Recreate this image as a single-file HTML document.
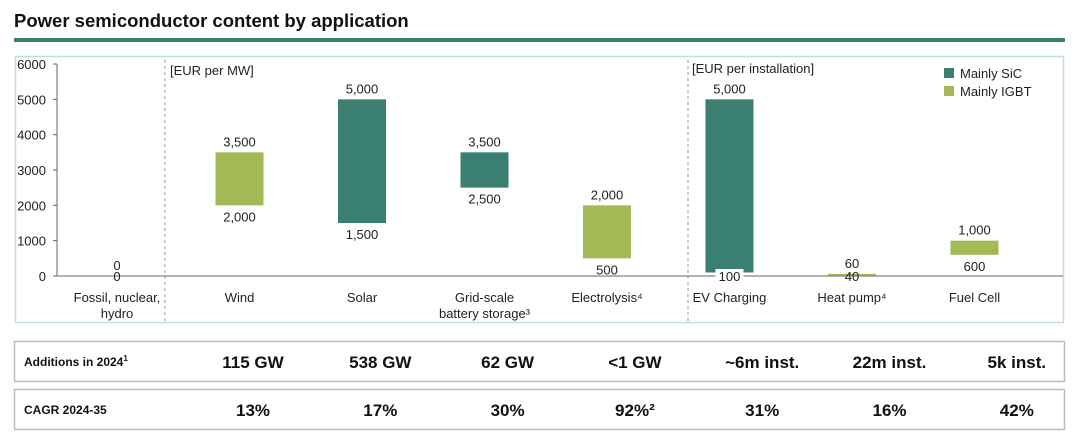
<!DOCTYPE html>
<html><head><meta charset="utf-8"><style>
body{margin:0;background:#fff;font-family:"Liberation Sans",Arial,sans-serif;}
svg text{font-family:"Liberation Sans",Arial,sans-serif;}
</style></head><body>
<svg id="c" width="1080" height="439" xmlns="http://www.w3.org/2000/svg">
<text x="14" y="27" font-size="18.5" font-weight="bold" fill="#111">Power semiconductor content by application</text>
<rect x="14" y="38" width="1051" height="4" fill="#3a7f72"/>
<rect x="15.5" y="56.5" width="1048" height="266" fill="none" stroke="#bfe0dc" stroke-width="1.5"/>
<line x1="165" y1="60" x2="165" y2="322" stroke="#999" stroke-dasharray="3,3"/>
<line x1="688" y1="60" x2="688" y2="322" stroke="#999" stroke-dasharray="3,3"/>
<text x="170" y="75" font-size="13" fill="#222">[EUR per MW]</text>
<text x="692" y="73" font-size="13" fill="#222">[EUR per installation]</text>
<g>
<rect x="944" y="68" width="10" height="10" fill="#3a7f72"/>
<text x="960" y="78" font-size="13" fill="#222">Mainly SiC</text>
<rect x="944" y="86" width="10" height="10" fill="#a2b955"/>
<text x="960" y="96" font-size="13" fill="#222">Mainly IGBT</text>
</g>
<g id="axis"></g><g id="bars"></g>
<g>
<rect x="14.5" y="341.5" width="1050" height="40" fill="none" stroke="#bbb" stroke-width="1.5"/>
<rect x="14.5" y="389.5" width="1050" height="40" fill="none" stroke="#bbb" stroke-width="1.5"/>
<text x="24" y="366" font-size="12" font-weight="bold" fill="#111">Additions in 2024<tspan font-size="8" dy="-5">1</tspan></text>
<text x="24" y="414" font-size="12" font-weight="bold" fill="#111">CAGR 2024-35</text>
<g id="tbl"></g>
</g>
</svg>
<script>
const categories=["Fossil, nuclear,|hydro","Wind","Solar","Grid-scale|battery storage³","Electrolysis⁴","EV Charging","Heat pump⁴","Fuel Cell"];
const lowValues=[0,2000,1500,2500,500,100,40,600];
const highValues=[0,3500,5000,3500,2000,5000,60,1000];
const seriesType=["igbt","igbt","sic","sic","igbt","sic","igbt","igbt"];
const yTicks=[0,1000,2000,3000,4000,5000,6000];
const additions=["115 GW","538 GW","62 GW","<1 GW","~6m inst.","22m inst.","5k inst."];
const cagr=["13%","17%","30%","92%","31%","16%","42%"];
const NS="http://www.w3.org/2000/svg";
const y=v=>276-v*(212/6000);
const x=i=>117+i*122.5;
const col={sic:"#3a7f72",igbt:"#a2b955"};
function mk(t,a,p){const e=document.createElementNS(NS,t);for(const k in a)e.setAttribute(k,a[k]);(p||document.getElementById('bars')).appendChild(e);return e;}
const ax=document.getElementById('axis');
mk('line',{x1:57,y1:y(6000),x2:57,y2:276,stroke:'#666'},ax);
const base=mk('line',{x1:57,y1:276,x2:1063,y2:276,stroke:'#666'},ax);


yTicks.forEach(t=>{mk('line',{x1:53,y1:y(t),x2:57,y2:y(t),stroke:'#666'},ax);
const tx=mk('text',{x:46,y:y(t)+5,'font-size':13,'text-anchor':'end',fill:'#222'},ax);tx.textContent=t;

});
const fmt=v=>v.toLocaleString('en-US');
categories.forEach((c,i)=>{const cx=x(i);
const bh=y(lowValues[i])-y(highValues[i]);
if(highValues[i]>lowValues[i]){const r=mk('rect',{x:cx-24,y:y(highValues[i]),width:48,height:Math.max(1.5,bh),fill:col[seriesType[i]]});

}
const h=mk('text',{x:cx,y:y(highValues[i])-6,'font-size':13,'text-anchor':'middle',fill:'#222'});h.textContent=fmt(highValues[i]);


let ly=y(lowValues[i])+16;
if(ly>282)ly=281;
if(ly-12<y(lowValues[i]) && bh>5)mk('rect',{x:cx-14,y:ly-12,width:28,height:15,fill:'#fff'});
const l=mk('text',{x:cx,y:ly,'font-size':13,'text-anchor':'middle',fill:'#222'});l.textContent=fmt(lowValues[i]);


c.split('|').forEach((s,j)=>{const t=mk('text',{x:cx,y:302+j*16,'font-size':13,'text-anchor':'middle',fill:'#222'});t.textContent=s;

});
});
const tb=document.getElementById('tbl');
additions.forEach((a,i)=>{const cx=253+i*127.3;
const t=mk('text',{x:cx,y:368,'font-size':17,'font-weight':'bold','text-anchor':'middle',fill:'#111'},tb);t.textContent=a;


const u=mk('text',{x:cx,y:416,'font-size':17,'font-weight':'bold','text-anchor':'middle',fill:'#111'},tb);u.textContent=cagr[i]+(i==3?'²':'');

});
</script>
</body></html>
